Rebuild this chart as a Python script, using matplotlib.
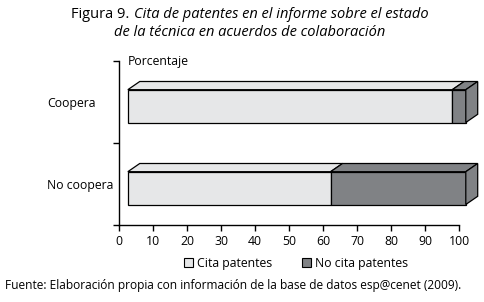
import matplotlib
matplotlib.use("Agg")
import matplotlib.pyplot as plt
from matplotlib.patches import Polygon, Rectangle

plt.rcParams['font.family'] = ['Open Sans', 'DejaVu Sans']

categorias = ["No coopera", "Coopera"]
cita = [60, 96]
no_cita = [40, 4]
series = ["Cita patentes", "No cita patentes"]
colores = ["#e6e7e8", "#808285"]
ticks_x = [0, 10, 20, 30, 40, 50, 60, 70, 80, 90, 100]

fig = plt.figure(figsize=(4.85, 3.02), dpi=100)
ax = fig.add_axes([119/485, 1-225/302, 340/485, 164/302])
ax.set_xlim(0, 100)
ax.set_ylim(0, 2)

# falso 3D como en Excel
off = 2.6      # desplazamiento de la cara frontal
dx, dy = 3.5, 0.1
esc = 0.994
h = 0.4

for i, cat in enumerate(categorias):
    y0 = i + 0.5 - 0.25
    x = off
    for v, c in zip([cita[i], no_cita[i]], colores):
        w = v * esc
        ax.add_patch(Polygon([(x, y0+h), (x+dx, y0+h+dy), (x+w+dx, y0+h+dy), (x+w, y0+h)],
                             closed=True, fc=c, ec="black", lw=0.9, clip_on=False))
        ax.add_patch(Rectangle((x, y0), w, h, fc=c, ec="black", lw=0.9, clip_on=False))
        x += w
    ax.add_patch(Polygon([(x, y0), (x+dx, y0+dy), (x+dx, y0+h+dy), (x, y0+h)],
                         closed=True, fc=colores[1], ec="black", lw=0.9, clip_on=False))

ax.set_yticks([0, 1, 2])
ax.set_yticklabels([])
tr = matplotlib.transforms.blended_transform_factory(fig.transFigure, ax.transData)
for i, cat in enumerate(categorias):
    fig.text(47/485, i + 0.48, cat, ha="left", va="center", fontsize=8.8, transform=tr)
ax.set_xticks(ticks_x)
ax.tick_params(axis="x", length=4, width=1, labelsize=8.8, pad=3)
ax.tick_params(axis="y", length=4, width=1)
for s in ["top", "right"]:
    ax.spines[s].set_visible(False)
for s in ["left", "bottom"]:
    ax.spines[s].set_linewidth(1)

ax.text(2.6, 2.0, "Porcentaje", ha="left", va="center", fontsize=8.8)

# titulo
r = fig.canvas.get_renderer()
t1 = fig.text(0, 1-14/302, "Figura 9. ", ha="left", va="center", fontsize=10.5)
t2 = fig.text(0, 1-14/302, "Cita de patentes en el informe sobre el estado", ha="left",
              va="center", fontsize=10.5, style="italic")
w1 = t1.get_window_extent(r).width / 485
w2 = t2.get_window_extent(r).width / 485
x0 = 0.515 - (w1 + w2) / 2
t1.set_x(x0)
t2.set_x(x0 + w1)
fig.text(0.515, 1-32/302, "de la técnica en acuerdos de colaboración", ha="center",
         va="center", fontsize=10.5, style="italic")

# leyenda
handles = [Rectangle((0, 0), 1, 1, fc=c, ec="black", lw=0.8) for c in colores]
fig.legend(handles, series, loc="center", bbox_to_anchor=(296/485, 1-263/302), ncol=2,
           frameon=False, fontsize=8.8, handlelength=0.75, handleheight=0.75,
           handletextpad=0.3, columnspacing=2.4)

fig.text(5/485, 1-285/302, "Fuente: Elaboración propia con información de la base de datos esp@cenet (2009).",
         ha="left", va="center", fontsize=8.6)

fig.savefig("out.png", dpi=100)
